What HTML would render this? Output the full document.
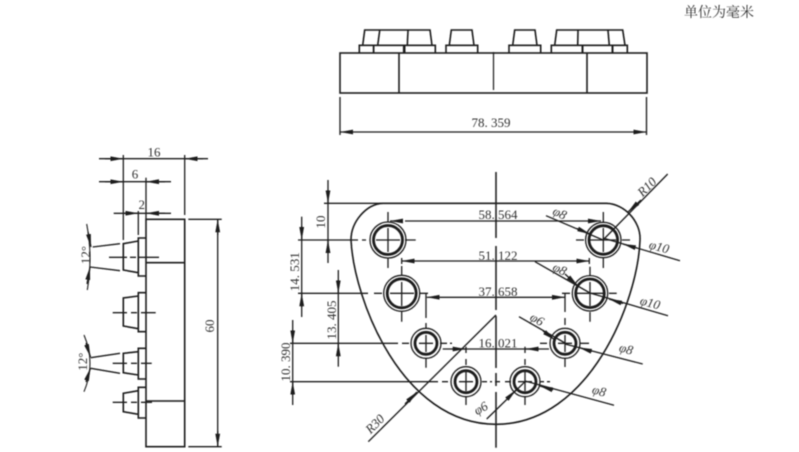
<!DOCTYPE html>
<html><head><meta charset="utf-8"><style>
html,body{margin:0;padding:0;background:#fff;width:799px;height:452px;overflow:hidden}
svg{display:block}
text{font-family:"Liberation Serif","Noto Serif CJK SC",serif;fill:#333;font-size:13px;text-anchor:middle}
.i{font-style:italic}
</style></head><body>
<svg width="799" height="452" viewBox="0 0 799 452" xmlns="http://www.w3.org/2000/svg">
<defs>
<marker id="a" markerUnits="userSpaceOnUse" markerWidth="14" markerHeight="8" refX="13" refY="4" orient="auto"><path d="M13,4 L0,1.6 L0,6.4 Z" fill="#1c1c1c"/></marker>
<filter id="b" x="0" y="0" width="100%" height="100%" filterUnits="userSpaceOnUse"><feGaussianBlur stdDeviation="0.4"/></filter>
</defs>
<g filter="url(#b)" fill="none" stroke="#1c1c1c" stroke-width="1.3">

<!-- top view -->
<g stroke-width="1.6">
<rect x="340" y="53" width="307" height="40"/>
<path d="M399,53V93M587,53V93"/>
<path d="M493.5,52V90" stroke-width="1.2"/>
<path d="M359.3,53V45.3H373.5V53M373.7,53V45.3H403.7V53M404.7,53V45.3H435.3V53M446,53V45.3H477.7V53M509,53V45.3H540.7V53M551.3,53V45.3H582.3V53M582.7,53V45.3H612.3V53M612.7,53V45.3H627.3V53"/>
<path d="M362.7,45.3L364.7,30H430L432,45.3M377.7,45.3L379.7,30.5M408,30.5L407.3,45.3"/>
<path d="M449.3,45.3L451.3,30H472L474,45.3"/>
<path d="M512.7,45.3L514.7,30H535L537,45.3"/>
<path d="M554.7,45.3L556.7,30H622.7L625,45.3M578,30.5L577.7,45.3M608,30.5L609.3,45.3"/>
</g>
<path d="M340,97V135M646.5,97V135" />
<path d="M372,132H340" marker-end="url(#a)"/>
<path d="M610,132H646.5" marker-end="url(#a)"/>
<path d="M372,132H610"/>

<!-- left view -->
<g stroke-width="1.6">
<rect x="146" y="219.3" width="38.7" height="227.4"/>
<path d="M146,262.7H184.7M146,401H184.7"/>
<path d="M146,238H138.3V276H146M138.3,241L123.3,243.7V270L138.3,272.7"/>
<path d="M146,292.7H138.3V331.7H146M138.3,296L123.3,298V326L138.3,328.7"/>
<path d="M146,348.3H138.3V379H146M138.3,351.7L123.3,353.3V372.7L138.3,375"/>
<path d="M146,387.3H138.3V418H146M138.3,390.7L123.3,393.3V411.7L138.3,414.3"/>
</g>
<path d="M123.3,155V240M184.7,155V215M146,177.7V219M138.3,211V235"/>
<path d="M99,158.7H208"/>
<path d="M105,158.7H123.3" marker-end="url(#a)"/>
<path d="M203,158.7H184.7" marker-end="url(#a)"/>
<path d="M99,181.7H171"/>
<path d="M105,181.7H123.3" marker-end="url(#a)"/>
<path d="M165,181.7H146" marker-end="url(#a)"/>
<path d="M113.7,213.3H171"/>
<path d="M123.3,213.3H138.3" marker-end="url(#a)"/>
<path d="M165,213.3H146" marker-end="url(#a)"/>
<path d="M188.3,219.3H221.7M188.3,446.7H221.7M217.7,219.3V446.7"/>
<path d="M217.7,235H217.7V219.3" marker-end="url(#a)"/>
<path d="M217.7,431V446.7" marker-end="url(#a)"/>
<path d="M109,257.3H127M130,257.3H136M139,257.3H159M112.7,312.7H127M131,312.7H137M141,312.7H155.7M112.7,363.3H127M131,363.3H137M141,363.3H151.7M112.7,402.3H127M131,402.3H137M141,402.3H152"/>
<path d="M92.7,247L120,243.7M90,267L120,270.7M90.7,357.7L120,353.3M90.7,368.3L120,373.3"/>
<path d="M86.7,224Q93,257 87.3,290M84,335Q96,363 84,391.7" stroke-width="1.1"/>
<path d="M88,232L91,247" marker-end="url(#a)"/>
<path d="M87,284L90,267" marker-end="url(#a)"/>
<path d="M86,343L90.5,357" marker-end="url(#a)"/>
<path d="M86,382L90.5,368" marker-end="url(#a)"/>

<!-- outline -->
<path d="M383,203.3H606.7C625,204 641,222 640,240C638,300 590,424.3 496,424.3C402,424.3 354,300 351,240C351,222 366,204 383,203.3Z" stroke-width="1.6"/>
<path d="M324,203.3H383"/>
<path d="M496,172V238M496,246V310M496,316V368M496,373V386M496,392V447.7" stroke-width="1.5"/>

<!-- holes -->
<g>
<circle cx="388" cy="240" r="18"/><circle cx="388" cy="240" r="14.5" stroke-width="2.8"/>
<circle cx="401.7" cy="293.3" r="18"/><circle cx="401.7" cy="293.3" r="14.5" stroke-width="2.8"/>
<circle cx="603.3" cy="240" r="17.7"/><circle cx="603.3" cy="240" r="14.3" stroke-width="2.8"/>
<circle cx="590" cy="293.3" r="17.7"/><circle cx="590" cy="293.3" r="14.3" stroke-width="2.8"/>
<circle cx="426" cy="343.3" r="15"/><circle cx="426" cy="343.3" r="11" stroke-width="2.8"/>
<circle cx="565" cy="343.3" r="15"/><circle cx="565" cy="343.3" r="11" stroke-width="2.8"/>
<circle cx="466" cy="381.7" r="15"/><circle cx="466" cy="381.7" r="11" stroke-width="2.8"/>
<circle cx="525" cy="381.7" r="15"/><circle cx="525" cy="381.7" r="11" stroke-width="2.8"/>
</g>

<!-- centre lines -->
<path d="M298,240H358M362,240H366M376,240H400M405,240H415.7M388,212V222M388,228V252M388,258V268"/>
<path d="M298,293.3H368M374,293.3H382M390,293.3H414M420,293.3H428M401.7,266V276M401.7,282V306M401.7,312V321.7"/>
<path d="M576,240H584M590,240H616M622,240H630M603.3,212V222M603.3,228V252M603.3,258V268"/>
<path d="M562,293.3H570M577,293.3H603M609,293.3H616.7M590,266.7V276M590,282V306M590,312V321.7"/>
<path d="M290,343.3H398M402,343.3H409M419,343.3H433M440,343.3H447M450,343.3H452M426,293V318M426,323V328M426,335V352M426,358V367.7"/>
<path d="M540,343.3H547M558,343.3H572M580,343.3H589M565,293V312M565,318V325M565,335V352M565,358V367"/>
<path d="M290,381.7H438M442,381.7H448M459,381.7H473M482,381.7H487M490,381.7H492M466,346.7V353M466,359V365M466,372V391M466,397V405"/>
<path d="M495,381.7H500M505,381.7H511M518,381.7H532M540,381.7H544M547,381.7H550M525,346.7V353M525,359V365M525,372V391M525,397V405"/>

<!-- horizontal dims -->
<path d="M405,221H587"/>
<path d="M403,221H390" marker-end="url(#a)"/>
<path d="M587,221H601" marker-end="url(#a)"/>
<path d="M415,261H576"/>
<path d="M415,261H401.7" marker-end="url(#a)"/>
<path d="M576,261H589.3" marker-end="url(#a)"/>
<path d="M401.7,258V264M589.3,258V264"/>
<path d="M440,297.3H552"/>
<path d="M440,297.3H426.7" marker-end="url(#a)"/>
<path d="M552,297.3H565" marker-end="url(#a)"/>
<path d="M442.7,349H549"/>
<path d="M452,349H465.7" marker-end="url(#a)"/>
<path d="M539,349H525.7" marker-end="url(#a)"/>

<!-- vertical dims -->
<path d="M328,180V263"/>
<path d="M328,190V203.3" marker-end="url(#a)"/>
<path d="M328,253V240" marker-end="url(#a)"/>
<path d="M301.7,216.7V317"/>
<path d="M301.7,226V240" marker-end="url(#a)"/>
<path d="M301.7,307V293.3" marker-end="url(#a)"/>
<path d="M338.3,270V366.7"/>
<path d="M338.3,280V293.3" marker-end="url(#a)"/>
<path d="M338.3,356V343.3" marker-end="url(#a)"/>
<path d="M292.7,320V405"/>
<path d="M292.7,330V343.3" marker-end="url(#a)"/>
<path d="M292.7,395V381.7" marker-end="url(#a)"/>

<!-- radial leaders -->
<path d="M368.3,441.7L496,315"/>
<path d="M405,404L417,392" marker-end="url(#a)"/>
<path d="M667.7,174L603,240"/>
<path d="M641,200L628,212" marker-end="url(#a)"/>

<path d="M546,215.7L603,240"/>
<path d="M577,228.5L590,234" marker-end="url(#a)"/>
<path d="M603,238L680,260.7"/>
<path d="M636.7,248L623,244" marker-end="url(#a)"/>
<path d="M535,261.7L590,293"/>
<path d="M565,274L578,286" marker-end="url(#a)"/>
<path d="M590,293L668,315.7"/>
<path d="M623,303.5L609,299" marker-end="url(#a)"/>
<path d="M519,316.7L565,343"/>
<path d="M543,331L555,340" marker-end="url(#a)"/>
<path d="M565,344L642.7,364"/>
<path d="M592,351.5L579,347.5" marker-end="url(#a)"/>
<path d="M525,381L614,405.3"/>
<path d="M553,390L540,386" marker-end="url(#a)"/>
<path d="M486.7,419L525,381.7"/>
<path d="M508,398L516,390" marker-end="url(#a)"/>
</g>

<g filter="url(#b)">
<text x="491" y="127">78. 359</text>
<text x="154" y="156.5">16</text>
<text x="135" y="178.5">6</text>
<text x="141.7" y="209">2</text>
<text x="214" y="326" transform="rotate(-90 214 326)">60</text>
<text x="90" y="255" transform="rotate(-90 90 255)">12°</text>
<text x="87" y="361.7" transform="rotate(-90 87 361.7)">12°</text>
<text x="498" y="219">58. 564</text>
<text x="498" y="260">51. 122</text>
<text x="498" y="296">37. 658</text>
<text x="498" y="347.5">16. 021</text>
<text x="325" y="222" transform="rotate(-90 325 222)">10</text>
<text x="299" y="271.7" transform="rotate(-90 299 271.7)">14. 531</text>
<text x="336" y="320" transform="rotate(-90 336 320)">13. 405</text>
<text x="290" y="362" transform="rotate(-90 290 362)">10. 390</text>
<text class="i" x="378" y="427" transform="rotate(-45 378 427)">R30</text>
<text class="i" x="650" y="190" transform="rotate(-45 650 190)">R10</text>
<text class="i" x="558" y="217" transform="rotate(25 558 217)">φ8</text>
<text class="i" x="658" y="251" transform="rotate(15 658 251)">φ10</text>
<text class="i" x="558" y="273" transform="rotate(25 558 273)">φ8</text>
<text class="i" x="649" y="307" transform="rotate(15 649 307)">φ10</text>
<text class="i" x="535" y="323" transform="rotate(30 535 323)">φ6</text>
<text class="i" x="625" y="353" transform="rotate(15 625 353)">φ8</text>
<text class="i" x="598" y="395" transform="rotate(15 598 395)">φ8</text>
<text class="i" x="483" y="412" transform="rotate(-30 483 412)">φ6</text>
<text x="719" y="17" style="font-size:14px">单位为毫米</text>
</g>
</svg>
</body></html>
